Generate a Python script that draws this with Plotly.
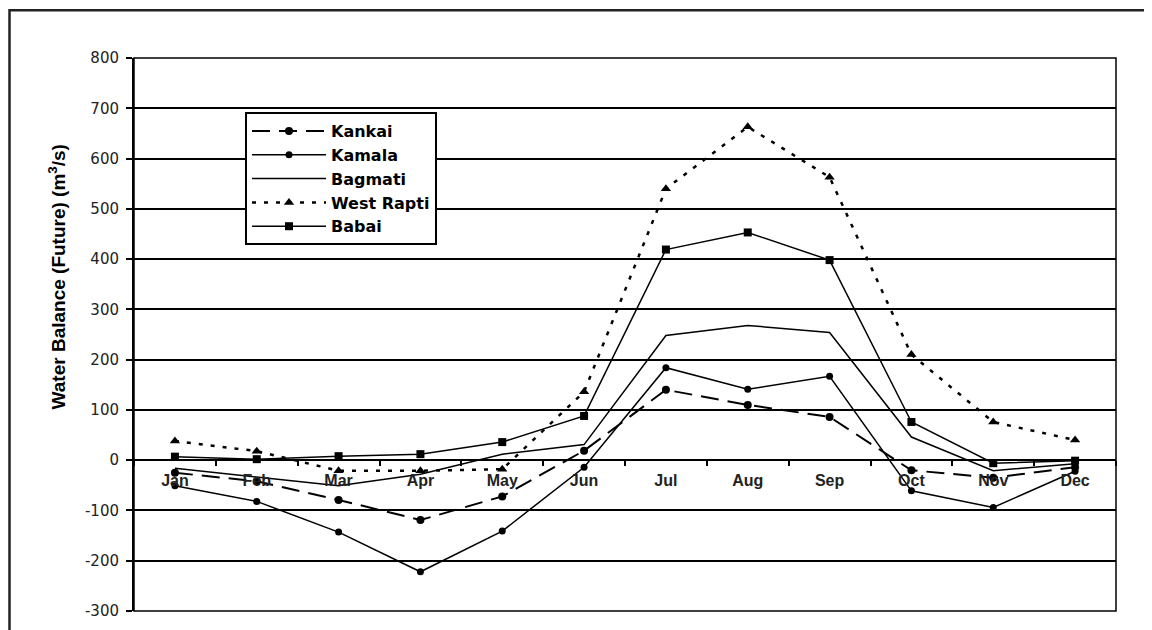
import plotly.graph_objects as go

months = ["Jan", "Feb", "Mar", "Apr", "May", "Jun", "Jul", "Aug", "Sep", "Oct", "Nov", "Dec"]
kankai = [-25, -42, -79, -119, -72, 19, 140, 110, 86, -20, -35, -14]
kamala = [-51, -82, -143, -222, -141, -14, 184, 141, 167, -61, -94, -22]
bagmati = [-16, -33, -51, -28, 12, 31, 248, 268, 254, 46, -21, -7]
west_rapti = [38, 18, -21, -21, -18, 136, 540, 663, 563, 210, 76, 40]
babai = [7, 2, 8, 12, 36, 88, 419, 453, 398, 76, -6, -1]

y_ticks = [-300, -200, -100, 0, 100, 200, 300, 400, 500, 600, 700, 800]
y_tick_text = ["-300", "-200", "-100", "0", "100", "200", "300", "400", "500", "600", "700", "800"]

FONT = "Liberation Sans, Arial, sans-serif"
WFONT = "DejaVu Sans, Liberation Sans, sans-serif"

W, H = 1144, 622
L, R, T, B = 126, 36, 50, 10
PW, PH = W - L - R, H - T - B

fig = go.Figure()
fig.add_trace(go.Scatter(x=months, y=kankai, name="Kankai", mode="lines+markers",
                         line=dict(color="black", width=2, dash="18px,9px"),
                         marker=dict(symbol="circle", size=8, color="black")))
fig.add_trace(go.Scatter(x=months, y=kamala, name="Kamala", mode="lines+markers",
                         line=dict(color="black", width=1.5),
                         marker=dict(symbol="circle", size=7, color="black")))
fig.add_trace(go.Scatter(x=months, y=bagmati, name="Bagmati", mode="lines",
                         line=dict(color="black", width=1.5)))
fig.add_trace(go.Scatter(x=months, y=west_rapti, name="West Rapti", mode="lines+markers",
                         line=dict(color="black", width=2.5, dash="4px,8px"),
                         marker=dict(symbol="triangle-up", size=9, color="black")))
fig.add_trace(go.Scatter(x=months, y=babai, name="Babai", mode="lines+markers",
                         line=dict(color="black", width=1.5),
                         marker=dict(symbol="square", size=8, color="black")))

fig.update_layout(
    width=W, height=H,
    margin=dict(l=L, r=R, t=T, b=B),
    paper_bgcolor="white", plot_bgcolor="white",
    font=dict(family=FONT, color="black"),
    showlegend=True,
    legend=dict(x=(237 - L) / PW, y=1 - (105 - T) / PH, xanchor="left", yanchor="top",
                bgcolor="white", bordercolor="black", borderwidth=2,
                font=dict(size=16, family=WFONT, weight="bold"),
                itemwidth=74, tracegroupgap=0),
    xaxis=dict(
        type="category", range=[-0.5, 11.5],
        anchor="free", position=300 / 1100,
        showline=True, linecolor="black", linewidth=2,
        ticks="outside", tickson="boundaries", ticklen=5, tickcolor="black", tickwidth=1.5,
        showgrid=False, zeroline=False,
        tickfont=dict(size=16, family=FONT, color="#222", weight="bold"),
        ticklabelstandoff=6,
    ),
    yaxis=dict(
        range=[-300, 800], tickmode="array", tickvals=y_ticks, ticktext=y_tick_text,
        showline=True, linecolor="black", linewidth=2,
        ticks="outside", ticklen=6, tickcolor="black", tickwidth=1.5,
        showgrid=True, gridcolor="black", gridwidth=1.5,
        zeroline=False,
        tickfont=dict(size=15, family=WFONT, color="#222"),
        ticklabelstandoff=4,
    ),
    annotations=[
        dict(text="Water Balance (Future) (m<sup>3</sup>/s)", xref="paper", yref="paper",
             x=(49 - L) / PW, y=1 - (273 - T) / PH, xanchor="center", yanchor="middle",
             textangle=-90, showarrow=False,
             font=dict(size=19, family=FONT, weight="bold", color="black")),
    ],
    shapes=[
        dict(type="rect", xref="paper", yref="paper", x0=0, x1=1, y0=0, y1=1,
             line=dict(color="black", width=1.5), layer="below"),
        dict(type="rect", xref="paper", yref="paper", x0=(-L + 1.5) / PW, x1=1.06,
             y0=-0.1, y1=1 + (T - 1.5) / PH, line=dict(color="#222", width=2.5)),
    ],
)

fig.write_html("out.html")
